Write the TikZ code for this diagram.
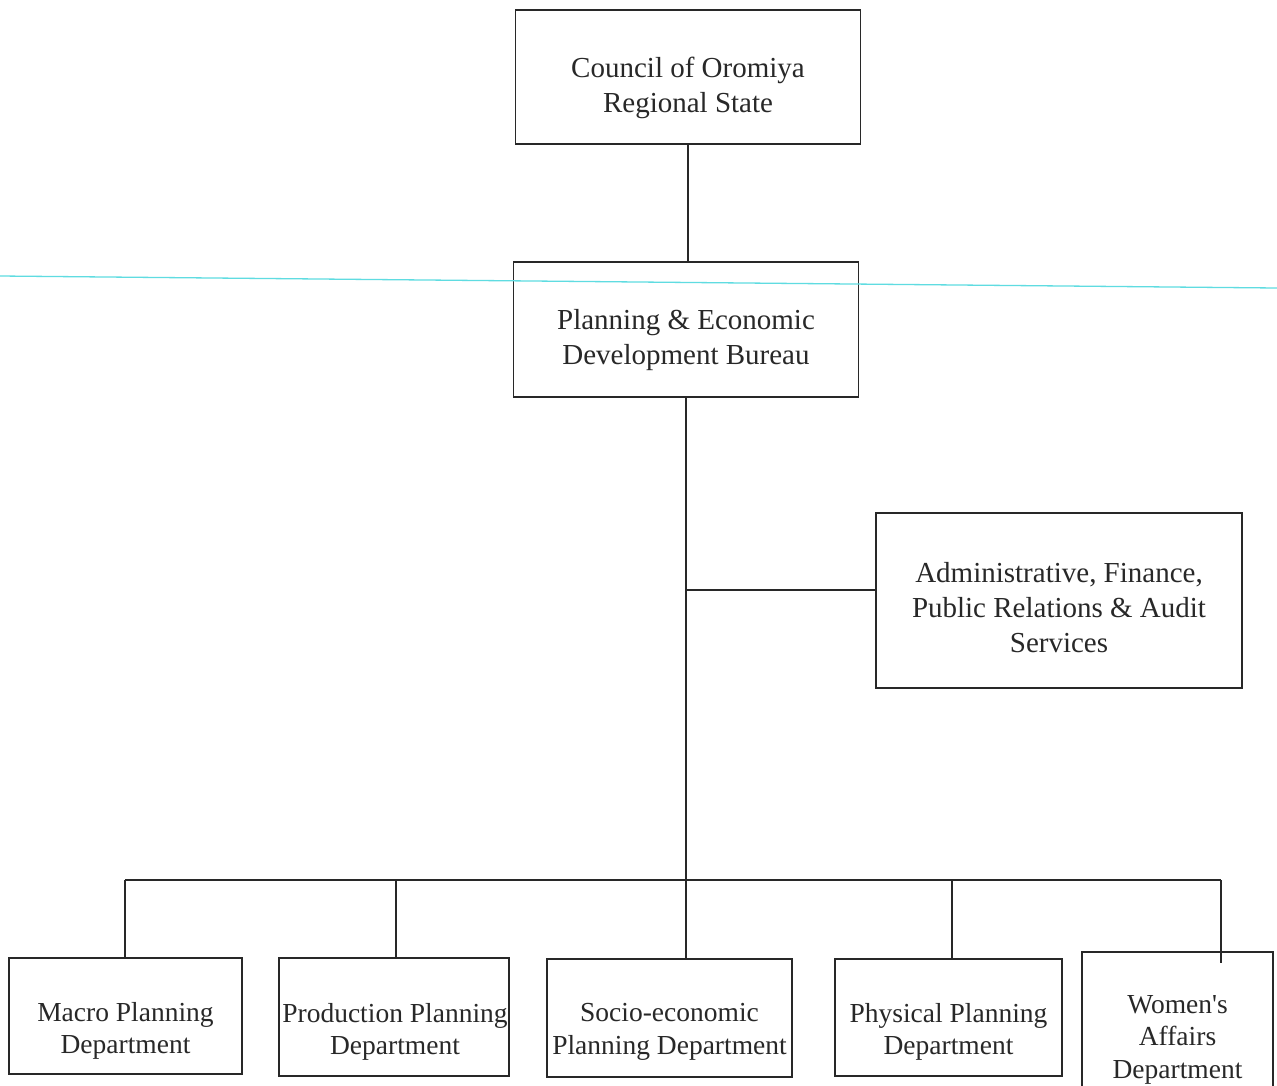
\documentclass[tikz,border=0pt]{standalone}
\usepackage{fontspec}
\setmainfont{Liberation Serif}
\definecolor{ink}{RGB}{40,40,40}
\definecolor{scanline}{RGB}{95,220,225}
\begin{document}
\begin{tikzpicture}[x=1pt,y=-1pt,
  box/.style={draw=ink, line width=1.5pt, inner sep=0pt},
  bigtxt/.style={text=ink, align=center, inner sep=0pt, font=\fontsize{29}{35}\selectfont},
  smalltxt/.style={text=ink, align=center, inner sep=0pt, font=\fontsize{27.5}{32.5}\selectfont},
  link/.style={draw=ink, line width=1.5pt}]
\useasboundingbox (0,0) rectangle (1277,1085);
\clip (0,0) rectangle (1277,1085);
\fill[white] (0,0) rectangle (1277,1085);

% boxes
\node[box, minimum width=345pt, minimum height=134pt] (council) at (688,77) {};
\node[box, minimum width=345pt, minimum height=135pt] (plan) at (686,329.5) {};
\node[box, minimum width=366pt, minimum height=175pt] (admin) at (1059,600.5) {};
\node[box, minimum width=233pt, minimum height=116pt] (macro) at (125.5,1016) {};
\node[box, minimum width=230pt, minimum height=118pt] (prod) at (394,1017) {};
\node[box, minimum width=245pt, minimum height=118pt] (socio) at (669.5,1018) {};
\node[box, minimum width=227pt, minimum height=117pt] (phys) at (948.5,1017.5) {};
\node[box, minimum width=191pt, minimum height=170pt, anchor=north] (women) at (1177.5,951) {};

% texts
\node[bigtxt] (councilT) at (688,88) {Council of Oromiya\\Regional State};
\node[bigtxt] (planT) at (686,340) {Planning \& Economic\\Development Bureau};
\node[bigtxt] (adminT) at (1059,608) {Administrative, Finance,\\Public Relations \& Audit\\Services};
\node[smalltxt] (macroT) at (125.5,1031) {Macro Planning\\Department};
\node[smalltxt] (prodT) at (395,1032) {Production Planning\\Department};
\node[smalltxt] (socioT) at (669.5,1032) {Socio-economic\\Planning Department};
\node[smalltxt] (physT) at (948.5,1032) {Physical Planning\\Department};
\node[smalltxt, anchor=north] (womenT) at (1177.5,995) {Women\textquotesingle s\\Affairs\\Department};

% scan line
\coordinate (sl) at (0,276);
\coordinate (sr) at (1277,288);
\draw[scanline, line width=1.3pt] (sl) -- (sr);

% connectors
\draw[link] (council.south) -- (council.south |- plan.north);
\coordinate (br) at (686,590);
\coordinate (busm) at (686,880);
\draw[link] (plan.south) -- (busm) -- (busm |- socio.north);
\draw[link] (br) -- (br -| admin.west);

\coordinate (b1) at (125,880);
\coordinate (b2) at (396,880);
\coordinate (b4) at (952,880);
\coordinate (b5) at (1221,880);
\draw[link] (b1) -- (b5);
\draw[link] (b1) -- (b1 |- macro.north);
\draw[link] (b2) -- (b2 |- prod.north);
\draw[link] (b4) -- (b4 |- phys.north);
\draw[link] (b5) -- ([yshift=-12pt]b5 |- women.north);
\end{tikzpicture}
\end{document}
